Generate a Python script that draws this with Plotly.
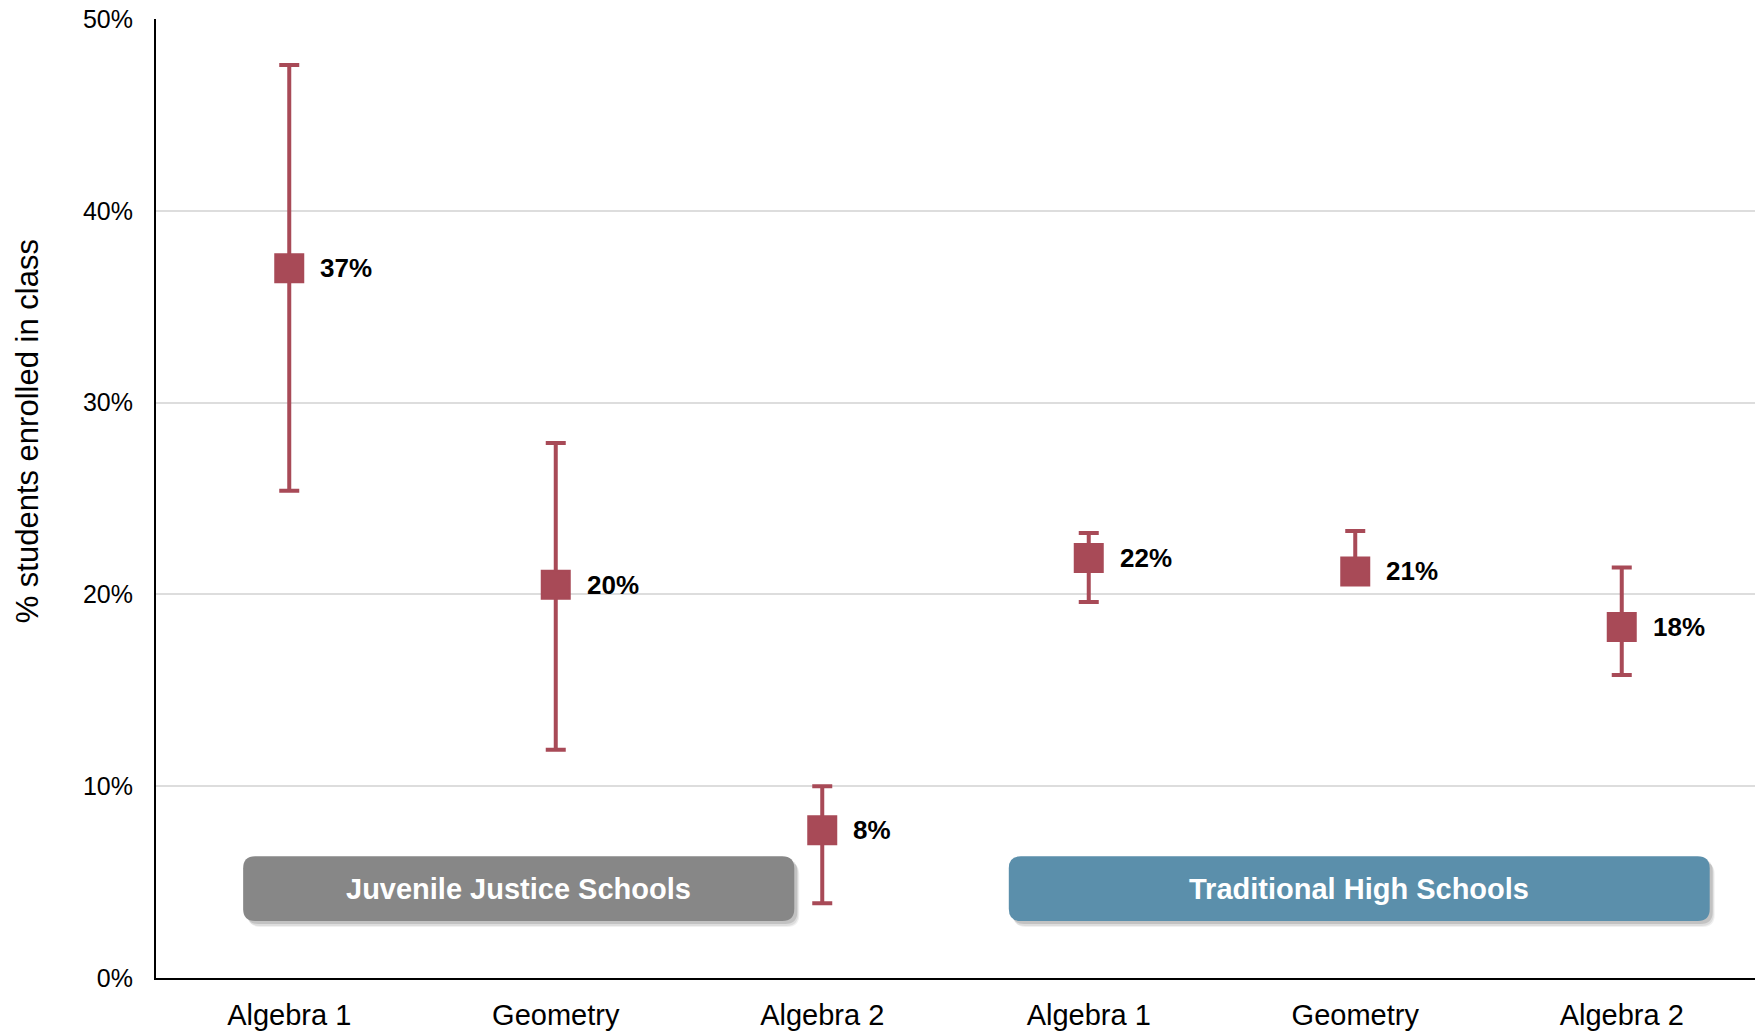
import plotly.graph_objects as go

# ---- data ----
groups = ["Juvenile Justice Schools"] * 3 + ["Traditional High Schools"] * 3
classes = ["Algebra 1", "Geometry", "Algebra 2", "Algebra 1", "Geometry", "Algebra 2"]
means = [37.0, 20.5, 7.7, 21.9, 21.2, 18.3]
upper = [47.6, 27.9, 10.0, 23.2, 23.3, 21.4]
lower = [25.4, 11.9, 3.9, 19.6, 20.7, 15.8]
value_labels = ["37%", "20%", "8%", "22%", "21%", "18%"]
y_ticks = [0, 10, 20, 30, 40, 50]

FONT = "Liberation Sans, Arial, Helvetica, sans-serif"
RED = "#A84A57"

xs = list(range(len(classes)))
err_plus = [u - m for u, m in zip(upper, means)]
err_minus = [m - l for m, l in zip(means, lower)]

fig = go.Figure()
fig.add_trace(go.Scatter(
    x=xs, y=means, mode="markers",
    marker=dict(symbol="square", size=28, color=RED, line=dict(color=RED, width=2)),
    error_y=dict(type="data", symmetric=False, array=err_plus, arrayminus=err_minus,
                 color=RED, thickness=4, width=10),
    showlegend=False, hoverinfo="skip",
))

for x, m, t in zip(xs, means, value_labels):
    fig.add_annotation(x=x, y=m, text=f"<b>{t}</b>", showarrow=False,
                       xanchor="left", yanchor="middle", xshift=29,
                       font=dict(family=FONT, size=26, color="#000000"))

# figure geometry (page body margin removed via post_script)
W, H = 1760, 1036
ml, mr, mt, mb = 156, 5, 17, 55
px_per_x = (W - ml - mr) / 6.0
px_per_y = (H - mt - mb) / 50.0


def rounded_path(x0, x1, y0, y1, rpx):
    rx = rpx / px_per_x
    ry = rpx / px_per_y
    return (f"M {x0+rx},{y1} L {x1-rx},{y1} Q {x1},{y1} {x1},{y1-ry} "
            f"L {x1},{y0+ry} Q {x1},{y0} {x1-rx},{y0} "
            f"L {x0+rx},{y0} Q {x0},{y0} {x0},{y0+ry} "
            f"L {x0},{y1-ry} Q {x0},{y1} {x0+rx},{y1} Z")


boxes = [
    ("Juvenile Justice Schools", -0.173, 1.895, "#878787"),
    ("Traditional High Schools", 2.70, 5.33, "#5B8FAB"),
]
by0, by1 = 2.97, 6.35
for name, bx0, bx1, col in boxes:
    # soft shadow
    for dx, dy, a in [(5, 6, 0.06), (4, 5, 0.08), (3, 3, 0.12)]:
        ox = dx / px_per_x
        oy = dy / px_per_y
        fig.add_shape(type="path", path=rounded_path(bx0 + ox, bx1 + ox, by0 - oy, by1 - oy, 12),
                      xref="x", yref="y", fillcolor=f"rgba(0,0,0,{a})", line=dict(width=0),
                      layer="below")
    fig.add_shape(type="path", path=rounded_path(bx0, bx1, by0, by1, 12),
                  xref="x", yref="y", fillcolor=col, line=dict(width=0), layer="below")
    fig.add_annotation(x=(bx0 + bx1) / 2, y=(by0 + by1) / 2, text=f"<b>{name}</b>",
                       showarrow=False, xanchor="center", yanchor="middle",
                       font=dict(family=FONT, size=29, color="#FFFFFF"))

# y-axis title (placed as annotation, slightly above centre like the reference)
fig.add_annotation(xref="paper", yref="paper", x=0, y=0.57, xshift=-129,
                   text="% students enrolled in class", textangle=-90, showarrow=False,
                   xanchor="center", yanchor="middle",
                   font=dict(family=FONT, size=31, color="#000000"))

fig.update_layout(
    width=W, height=H,
    margin=dict(l=ml, r=mr, t=mt, b=mb),
    paper_bgcolor="#FFFFFF", plot_bgcolor="#FFFFFF",
    font=dict(family=FONT, color="#000000"),
    showlegend=False,
)
fig.update_xaxes(
    range=[-0.5, 5.5], tickvals=xs, ticktext=classes,
    showgrid=False, zeroline=False, showline=True, linecolor="#000000", linewidth=2,
    ticks="", ticklabelstandoff=10, tickfont=dict(family=FONT, size=29, color="#000000"),
)
fig.update_yaxes(
    range=[0, 50], tickvals=y_ticks, ticktext=[f"{v}%" for v in y_ticks],
    showgrid=True, gridcolor="#DDDDDD", gridwidth=2, zeroline=False,
    showline=True, linecolor="#000000", linewidth=2, ticks="",
    ticklabeloverflow="allow",
    ticklabelstandoff=16, tickfont=dict(family=FONT, size=25, color="#000000"),
)

fig.write_html(
    "out.html",
    config={"displayModeBar": False},
    post_script="document.body.style.margin='0';document.body.style.overflow='hidden';",
)
